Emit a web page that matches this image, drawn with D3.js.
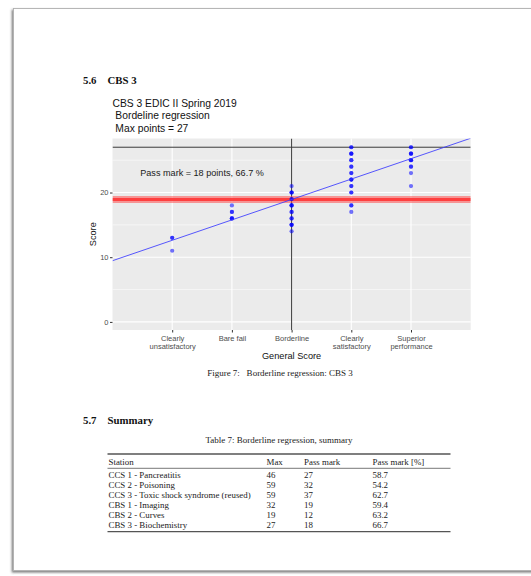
<!DOCTYPE html>
<html>
<head>
<meta charset="utf-8">
<script src="https://cdn.jsdelivr.net/npm/d3@7"></script>
<style>
  html, body { margin: 0; padding: 0; background: #fff; }
  svg { display: block; }
</style>
</head>
<body>
<svg id="page" width="531" height="576"></svg>
<script>
// ---- Chart data ----
const categories = [
  ["Clearly", "unsatisfactory"],
  ["Bare fail"],
  ["Borderline"],
  ["Clearly", "satisfactory"],
  ["Superior", "performance"]
];
// one entry per candidate, grouped by global rating (1..5)
const scoresUnsatisfactory = [13, 13, 11];
const scoresBareFail = [18, 17, 17, 16, 16, 16];
const scoresBorderline = [21, 20, 20, 20, 19, 19, 18, 18, 18, 17, 17, 16, 16, 15, 15, 15, 14];
const scoresSatisfactory = [27, 27, 26, 26, 26, 25, 25, 24, 24, 23, 23, 22, 22, 22, 21, 21, 20, 20, 18, 18, 17];
const scoresSuperior = [27, 27, 26, 26, 26, 25, 25, 25, 24, 24, 23, 21];
const scoreGroups = [scoresUnsatisfactory, scoresBareFail, scoresBorderline, scoresSatisfactory, scoresSuperior];

const yTicks = [0, 10, 20];
const yMinorTicks = [5, 15, 25];
const maxPoints = 27;
const passMarkPoints = 18;
const regIntercept = 9.46;   // fitted score at rating 0
const regSlope = 3.155;      // score gained per rating step
const borderlineRating = 3;

const titleLines = ["CBS 3 EDIC II Spring 2019", " Bordeline regression", " Max points = " + maxPoints];

// ---- Summary table data ----
const tableHeader = ["Station", "Max", "Pass mark", "Pass mark [%]"];
const stations = [
  "CCS 1 - Pancreatitis",
  "CCS 2 - Poisoning",
  "CCS 3 - Toxic shock syndrome (reused)",
  "CBS 1 - Imaging",
  "CBS 2 - Curves",
  "CBS 3 - Biochemistry"
];
const stationMax = [46, 59, 59, 32, 19, 27];
const stationPassMark = [27, 32, 37, 19, 12, 18];
const stationPassPct = ["58.7", "54.2", "62.7", "59.4", "63.2", "66.7"];

// ---- Drawing ----
const svg = d3.select("#page");
const SERIF = "'Liberation Serif', 'DejaVu Serif', serif";
const SANS = "'Liberation Sans', Arial, sans-serif";

// page sheet with drop shadow
const defs = svg.append("defs");
const sh = defs.append("filter").attr("id", "sheetShadow")
  .attr("x", "-5%").attr("y", "-5%").attr("width", "110%").attr("height", "110%");
sh.append("feDropShadow").attr("dx", -1.3).attr("dy", 1.6)
  .attr("stdDeviation", 1.2).attr("flood-color", "#444").attr("flood-opacity", 0.7);

svg.append("rect")
  .attr("x", 13.5).attr("y", 8.5).attr("width", 640).attr("height", 562)
  .attr("fill", "#fff").attr("stroke", "#b0b0b0").attr("stroke-width", 0.9)
  .attr("filter", "url(#sheetShadow)");

// section heading
function heading(num, label, y) {
  const t = svg.append("text").attr("y", y)
    .attr("font-family", SERIF).attr("font-weight", "bold").attr("font-size", 10.8).attr("fill", "#111");
  t.append("tspan").attr("x", 83).text(num);
  t.append("tspan").attr("x", 107.5).text(label);
}
heading("5.6", "CBS 3", 84);

// plot panel geometry
const panel = { left: 112.5, right: 470.7, top: 138.5, bottom: 330 };
const x = d3.scaleLinear().domain([0, 6]).range([panel.left, panel.right]);
const y = d3.scaleLinear().domain([-1.25, 28.35]).range([panel.bottom, panel.top]);

// plot title
const title = svg.append("text").attr("font-family", SANS).attr("font-size", 10.3)
  .attr("fill", "#111").attr("xml:space", "preserve").style("white-space", "pre");
titleLines.forEach((line, i) => {
  title.append("tspan").attr("x", panel.left).attr("y", 107 + i * 12.3).text(line);
});

const g = svg.append("g");
g.append("rect")
  .attr("x", panel.left).attr("y", panel.top)
  .attr("width", panel.right - panel.left).attr("height", panel.bottom - panel.top)
  .attr("fill", "#ebebeb");

defs.append("clipPath").attr("id", "panelClip").append("rect")
  .attr("x", panel.left).attr("y", panel.top)
  .attr("width", panel.right - panel.left).attr("height", panel.bottom - panel.top);

const grid = g.append("g").attr("stroke", "#fff").attr("fill", "none");
grid.selectAll(".minor").data(yMinorTicks).join("line")
  .attr("x1", panel.left).attr("x2", panel.right)
  .attr("y1", d => y(d)).attr("y2", d => y(d)).attr("stroke-width", 0.55);
grid.selectAll(".major").data(yTicks).join("line")
  .attr("x1", panel.left).attr("x2", panel.right)
  .attr("y1", d => y(d)).attr("y2", d => y(d)).attr("stroke-width", 1.1);
grid.selectAll(".vmajor").data(d3.range(1, categories.length + 1)).join("line")
  .attr("y1", panel.top).attr("y2", panel.bottom)
  .attr("x1", d => x(d)).attr("x2", d => x(d)).attr("stroke-width", 1.1);

const inner = g.append("g").attr("clip-path", "url(#panelClip)");

// maximum points and borderline reference lines
inner.append("line")
  .attr("x1", panel.left).attr("x2", panel.right)
  .attr("y1", y(maxPoints)).attr("y2", y(maxPoints))
  .attr("stroke", "#3a3a3a").attr("stroke-width", 1);
inner.append("line")
  .attr("x1", x(borderlineRating)).attr("x2", x(borderlineRating))
  .attr("y1", panel.top).attr("y2", panel.bottom)
  .attr("stroke", "#3a3a3a").attr("stroke-width", 1);

// cut score band: regression value at the borderline rating
const cutScore = regIntercept + regSlope * borderlineRating;
inner.append("line")
  .attr("x1", panel.left).attr("x2", panel.right)
  .attr("y1", y(cutScore)).attr("y2", y(cutScore))
  .attr("stroke", "#ff4d4d").attr("stroke-opacity", 0.55).attr("stroke-width", 7);
inner.append("line")
  .attr("x1", panel.left).attr("x2", panel.right)
  .attr("y1", y(cutScore)).attr("y2", y(cutScore))
  .attr("stroke", "#ff3030").attr("stroke-opacity", 0.85).attr("stroke-width", 3);

// candidate scores
const points = scoreGroups.flatMap((arr, i) => arr.map(s => ({ r: i + 1, s })));
inner.append("g").selectAll("circle").data(points).join("circle")
  .attr("cx", d => x(d.r)).attr("cy", d => y(d.s)).attr("r", 2.1)
  .attr("fill", "#0000ff").attr("fill-opacity", 0.55);

// regression line
inner.append("line")
  .attr("x1", x(0)).attr("y1", y(regIntercept))
  .attr("x2", x(6)).attr("y2", y(regIntercept + regSlope * 6))
  .attr("stroke", "#3b3bff").attr("stroke-opacity", 0.85).attr("stroke-width", 1);

// pass mark annotation
inner.append("text")
  .attr("x", x(1.5)).attr("y", y(23)).attr("dy", "0.35em")
  .attr("text-anchor", "middle").attr("font-family", SANS).attr("font-size", 9.1)
  .attr("fill", "#1a1a1a")
  .text(`Pass mark = ${passMarkPoints} points, ${(100 * passMarkPoints / maxPoints).toFixed(1)} %`);

// axes
const yAxis = g.append("g").attr("transform", `translate(${panel.left},0)`)
  .call(d3.axisLeft(y).tickValues(yTicks).tickSize(2.5).tickPadding(1.5));
const xAxis = g.append("g").attr("transform", `translate(0,${panel.bottom})`)
  .call(d3.axisBottom(x).tickValues(d3.range(1, categories.length + 1)).tickSize(2.5).tickPadding(2).tickFormat(""));
[yAxis, xAxis].forEach(a => {
  a.select(".domain").remove();
  a.selectAll(".tick line").attr("stroke", "#333");
  a.selectAll("text").attr("font-family", SANS).attr("font-size", 7.5).attr("fill", "#4d4d4d");
});
xAxis.selectAll(".tick text").each(function (d) {
  const t = d3.select(this).attr("y", null).attr("dy", null);
  categories[d - 1].forEach((line, i) => {
    t.append("tspan").attr("x", 0).attr("y", 10.5 + i * 8.3).text(line);
  });
});

svg.append("text")
  .attr("x", (panel.left + panel.right) / 2).attr("y", 359)
  .attr("text-anchor", "middle").attr("font-family", SANS).attr("font-size", 9.2).attr("fill", "#111")
  .text("General Score");
svg.append("text")
  .attr("transform", `translate(95.5,${(panel.top + panel.bottom) / 2}) rotate(-90)`)
  .attr("text-anchor", "middle").attr("font-family", SANS).attr("font-size", 9.2).attr("fill", "#111")
  .text("Score");

// figure caption
svg.append("text")
  .attr("x", 280).attr("y", 376).attr("text-anchor", "middle")
  .attr("font-family", SERIF).attr("font-size", 9).attr("fill", "#222")
  .attr("xml:space", "preserve").style("white-space", "pre")
  .text("Figure 7:   Borderline regression: CBS 3");

heading("5.7", "Summary", 423.5);

svg.append("text")
  .attr("x", 279).attr("y", 442.5).attr("text-anchor", "middle")
  .attr("font-family", SERIF).attr("font-size", 9).attr("fill", "#222")
  .text("Table 7: Borderline regression, summary");

// summary table
const colX = [108.5, 266.5, 304, 372.5];
const tbl = svg.append("g").attr("font-family", SERIF).attr("font-size", 8.9).attr("fill", "#222");
const ruleL = 107.5, ruleR = 450.5;
tbl.append("line").attr("x1", ruleL).attr("x2", ruleR).attr("y1", 454).attr("y2", 454)
  .attr("stroke", "#555").attr("stroke-width", 1.3);
tbl.append("line").attr("x1", ruleL).attr("x2", ruleR).attr("y1", 468.3).attr("y2", 468.3)
  .attr("stroke", "#555").attr("stroke-width", 0.8);
tbl.append("line").attr("x1", ruleL).attr("x2", ruleR).attr("y1", 531.7).attr("y2", 531.7)
  .attr("stroke", "#555").attr("stroke-width", 1.3);
tableHeader.forEach((h, i) => {
  tbl.append("text").attr("x", colX[i]).attr("y", 464.5).text(h);
});
const rows = stations.map((s, i) => [s, stationMax[i], stationPassMark[i], stationPassPct[i]]);
tbl.selectAll("g.row").data(rows).join("g")
  .attr("transform", (d, i) => `translate(0,${478.3 + i * 10})`)
  .each(function (row) {
    d3.select(this).selectAll("text").data(row).join("text")
      .attr("x", (d, i) => colX[i]).attr("y", 0).text(d => d);
  });
</script>
</body>
</html>
